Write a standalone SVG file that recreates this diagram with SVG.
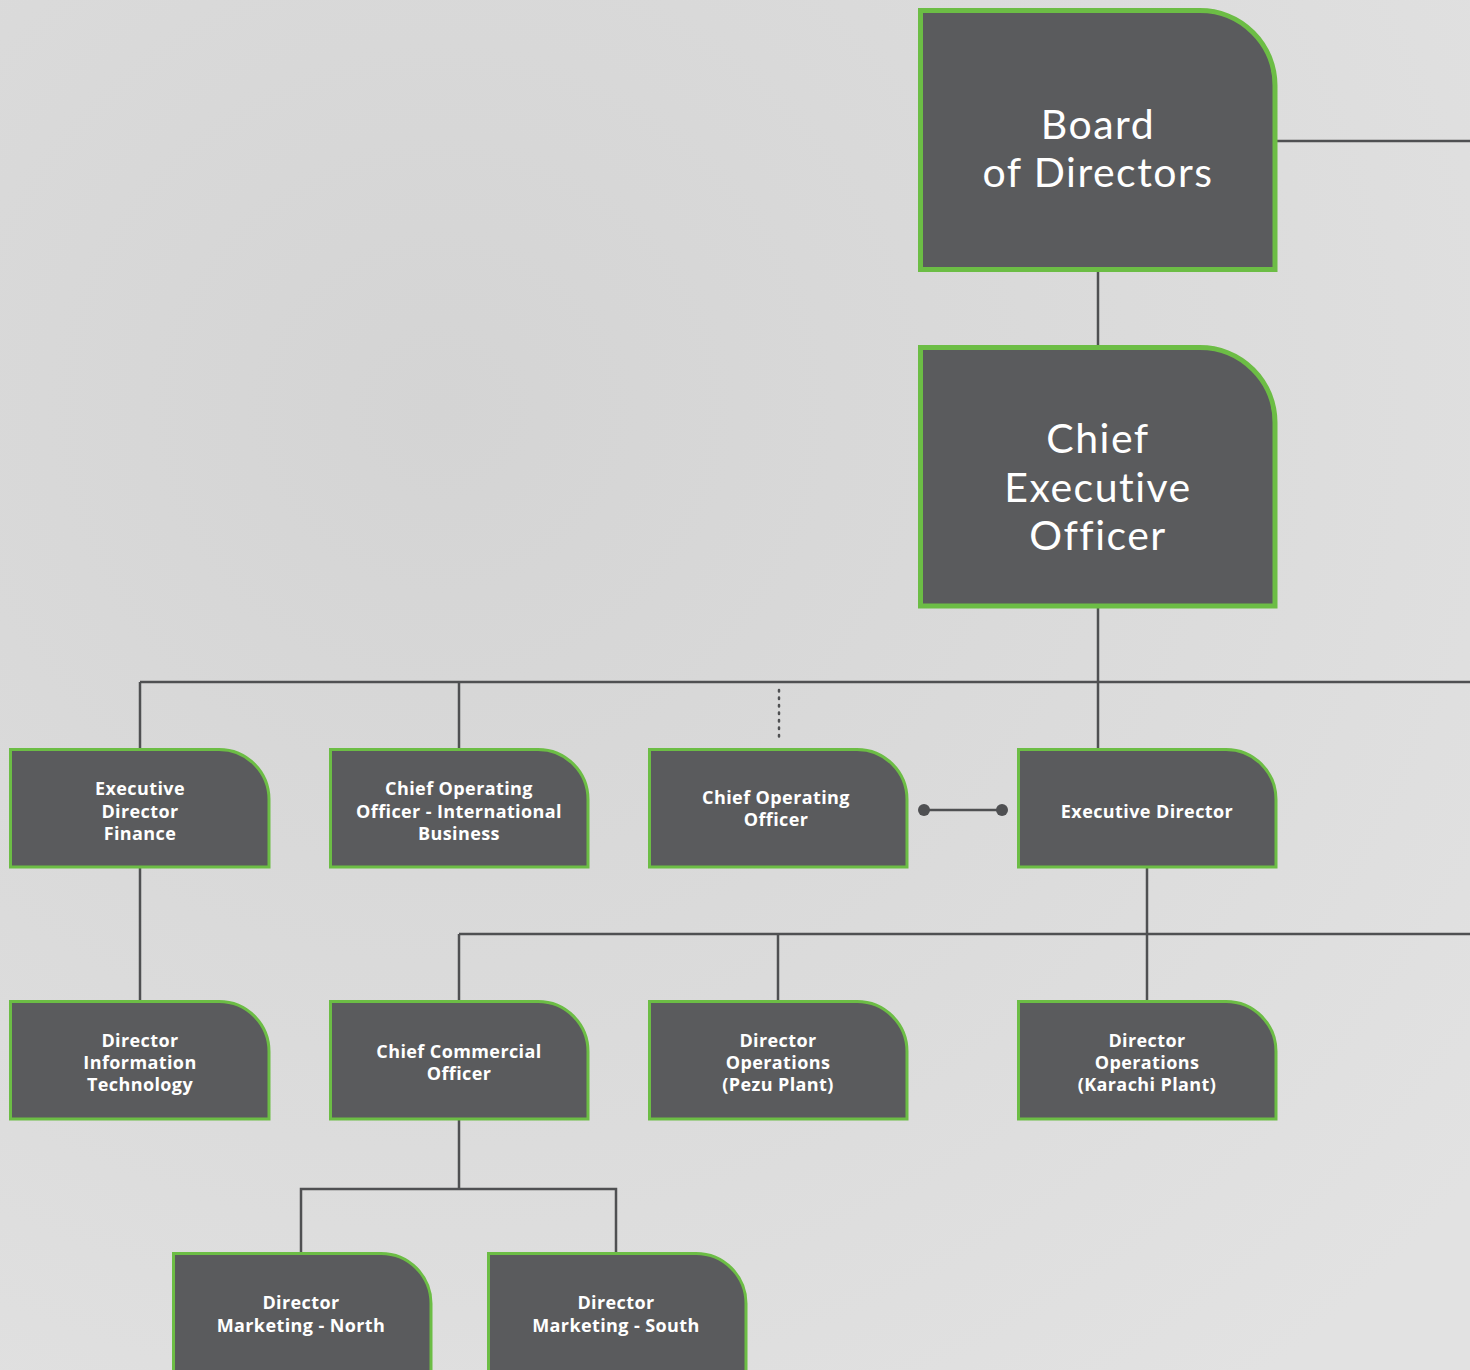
<svg xmlns="http://www.w3.org/2000/svg" width="1470" height="1370" viewBox="0 0 1470 1370">
<defs>
<radialGradient id="bg" cx="0.3" cy="0.3" r="0.9">
<stop offset="0" stop-color="#d4d4d4"/>
<stop offset="0.6" stop-color="#dcdcdc"/>
<stop offset="1" stop-color="#e2e2e2"/>
</radialGradient>
<style>
.big{fill:#5a5b5d;stroke:#6cbd45;stroke-width:5}
.box{fill:#5a5b5d;stroke:#6cbd45;stroke-width:3}
.ln{stroke:#4f5052;stroke-width:2.5;fill:none}
.dot{stroke:#4f5052;stroke-width:2.5;stroke-dasharray:1.5 6;stroke-linecap:round;fill:none}
.tb{font-family:Lato,"Open Sans","Liberation Sans",sans-serif;font-weight:400;font-size:41px;letter-spacing:1.5px;fill:#fff;text-anchor:middle}
.ts{font-family:"Open Sans","Liberation Sans",sans-serif;font-weight:700;font-size:18px;letter-spacing:0.4px;fill:#fff;text-anchor:middle}
</style>
</defs>
<rect width="1470" height="1370" fill="url(#bg)"/>
<g id="connectors">
<line class="ln" x1="1277" y1="141" x2="1470" y2="141"/>
<line class="ln" x1="1098" y1="272" x2="1098" y2="345"/>
<line class="ln" x1="1098" y1="608" x2="1098" y2="748"/>
<line class="ln" x1="140" y1="682" x2="1470" y2="682"/>
<line class="ln" x1="140" y1="682" x2="140" y2="748"/>
<line class="ln" x1="459" y1="682" x2="459" y2="748"/>
<line class="dot" x1="779" y1="690" x2="779" y2="742"/>
<line class="ln" x1="924" y1="810" x2="1002" y2="810"/>
<circle cx="924" cy="810" r="6" fill="#4f5052"/>
<circle cx="1002" cy="810" r="6" fill="#4f5052"/>
<line class="ln" x1="140" y1="868" x2="140" y2="1000"/>
<line class="ln" x1="1147" y1="868" x2="1147" y2="1000"/>
<line class="ln" x1="459" y1="934" x2="1470" y2="934"/>
<line class="ln" x1="459" y1="934" x2="459" y2="1000"/>
<line class="ln" x1="778" y1="934" x2="778" y2="1000"/>
<line class="ln" x1="459" y1="1120" x2="459" y2="1189"/>
<polyline class="ln" points="301,1252 301,1189 616,1189 616,1252"/>
</g>
<g id="board">
<path class="big" d="M920.5,10.5 H1200 A75,75 0 0 1 1275,85.5 V269.5 H920.5 Z"/>
<text class="tb" x="1098" y="139">Board</text>
<text class="tb" x="1098" y="187">of Directors</text>
</g>
<g id="ceo">
<path class="big" d="M920.5,347.5 H1200 A75,75 0 0 1 1275,422.5 V606 H920.5 Z"/>
<text class="tb" x="1098" y="453">Chief</text>
<text class="tb" x="1098" y="502">Executive</text>
<text class="tb" x="1098" y="550">Officer</text>
</g>
<g id="ed-finance">
<path class="box" d="M10.5,749.5 H219 A50,50 0 0 1 269,799.5 V867 H10.5 Z"/>
<text class="ts" x="140" y="795">Executive</text>
<text class="ts" x="140" y="818">Director</text>
<text class="ts" x="140" y="840">Finance</text>
</g>
<g id="coo-intl">
<path class="box" d="M330.5,749.5 H538 A50,50 0 0 1 588,799.5 V867 H330.5 Z"/>
<text class="ts" x="459" y="795">Chief Operating</text>
<text class="ts" x="459" y="818">Officer - International</text>
<text class="ts" x="459" y="840">Business</text>
</g>
<g id="coo">
<path class="box" d="M649.5,749.5 H857 A50,50 0 0 1 907,799.5 V867 H649.5 Z"/>
<text class="ts" x="776" y="804">Chief Operating</text>
<text class="ts" x="776" y="826">Officer</text>
</g>
<g id="exec-director">
<path class="box" d="M1018.5,749.5 H1226 A50,50 0 0 1 1276,799.5 V867 H1018.5 Z"/>
<text class="ts" x="1147" y="818">Executive Director</text>
</g>
<g id="dir-it">
<path class="box" d="M10.5,1001.5 H219 A50,50 0 0 1 269,1051.5 V1119 H10.5 Z"/>
<text class="ts" x="140" y="1047">Director</text>
<text class="ts" x="140" y="1069">Information</text>
<text class="ts" x="140" y="1091">Technology</text>
</g>
<g id="cco">
<path class="box" d="M330.5,1001.5 H538 A50,50 0 0 1 588,1051.5 V1119 H330.5 Z"/>
<text class="ts" x="459" y="1058">Chief Commercial</text>
<text class="ts" x="459" y="1080">Officer</text>
</g>
<g id="dir-ops-pezu">
<path class="box" d="M649.5,1001.5 H857 A50,50 0 0 1 907,1051.5 V1119 H649.5 Z"/>
<text class="ts" x="778" y="1047">Director</text>
<text class="ts" x="778" y="1069">Operations</text>
<text class="ts" x="778" y="1091">(Pezu Plant)</text>
</g>
<g id="dir-ops-karachi">
<path class="box" d="M1018.5,1001.5 H1226 A50,50 0 0 1 1276,1051.5 V1119 H1018.5 Z"/>
<text class="ts" x="1147" y="1047">Director</text>
<text class="ts" x="1147" y="1069">Operations</text>
<text class="ts" x="1147" y="1091">(Karachi Plant)</text>
</g>
<g id="dir-mkt-north">
<path class="box" d="M173.5,1253.5 H381 A50,50 0 0 1 431,1303.5 V1380 H173.5 Z"/>
<text class="ts" x="301" y="1309">Director</text>
<text class="ts" x="301" y="1332">Marketing - North</text>
</g>
<g id="dir-mkt-south">
<path class="box" d="M488.5,1253.5 H696 A50,50 0 0 1 746,1303.5 V1380 H488.5 Z"/>
<text class="ts" x="616" y="1309">Director</text>
<text class="ts" x="616" y="1332">Marketing - South</text>
</g>
</svg>
